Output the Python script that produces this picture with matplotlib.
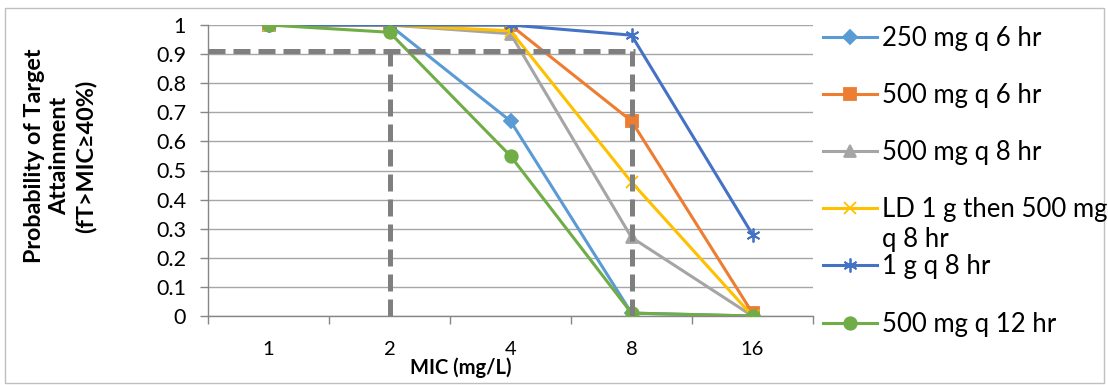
import numpy as np
import matplotlib
matplotlib.use("Agg")
import matplotlib.pyplot as plt
from matplotlib.patches import Rectangle

plt.rcParams['font.family'] = ['Lato', 'DejaVu Sans']

# MIC categories (mg/L)
mic_labels = ['1', '2', '4', '8', '16']

# probability of target attainment per regimen
pta_250_q6 = [1.0, 1.0, 0.67, 0.01, 0.0]
pta_500_q6 = [1.0, 1.0, 1.0, 0.67, 0.01]
pta_500_q8 = [1.0, 1.0, 0.97, 0.27, 0.0]
pta_ld_q8 = [1.0, 1.0, 0.98, 0.46, 0.0]
pta_1g_q8 = [1.0, 1.0, 1.0, 0.965, 0.28]
pta_500_q12 = [1.0, 0.975, 0.55, 0.01, 0.0]

regimens = ['250 mg q 6 hr', '500 mg q 6 hr', '500 mg q 8 hr',
            'LD 1 g then 500 mg', '1 g q 8 hr', '500 mg q 12 hr']

# target line and breakpoints
target = 0.91
breakpoints = [1, 3]   # category index of MIC 2 and MIC 8

series = [pta_250_q6, pta_500_q6, pta_500_q8, pta_ld_q8, pta_1g_q8, pta_500_q12]
colors = ['#5b9bd5', '#ed7d31', '#a5a5a5', '#ffc000', '#4472c4', '#70ad47']
markers = ['D', 's', '^', 'x', (6, 2, 0), 'o']
msizes = [7, 8, 8, 8, 10, 9]

fig = plt.figure(figsize=(11.08, 3.85), dpi=100)
ax = fig.add_axes([208/1108, 1-316/385, 605/1108, 291/385])

x = np.arange(len(mic_labels))
for vals, c, m, ms, lab in zip(series, colors, markers, msizes, regimens):
    ax.plot(x, vals, color=c, lw=2.2, marker=m, ms=ms, mec=c, mfc=c,
            mew=1.3, label=lab, zorder=3)

# dashed reference lines
dash_kw = dict(color='#7f7f7f', lw=3.6, dashes=(3.4, 1.6), zorder=4,
               solid_capstyle='butt', dash_capstyle='butt')
ax.plot([-0.5, breakpoints[1] + 0.03], [target, target], **dash_kw)
for b in breakpoints:
    ax.plot([b, b], [0, target], **dash_kw)

ax.set_xlim(-0.5, len(mic_labels) - 0.5)
ax.set_ylim(0, 1)
ax.set_yticks(np.arange(0, 1.01, 0.1))
ax.set_yticklabels(['0', '0.1', '0.2', '0.3', '0.4', '0.5', '0.6', '0.7',
                    '0.8', '0.9', '1'])
ax.set_xticks(x)
ax.set_xticklabels(mic_labels)
ax.set_xticks(np.arange(-0.5, len(mic_labels)), minor=True)
ax.tick_params(axis='x', which='major', length=0, pad=18, labelsize=14.5)
ax.tick_params(axis='x', which='minor', length=5.8, width=1, color='#868686')
ax.tick_params(axis='y', length=5.8, width=1, color='#868686', pad=10,
               labelsize=15.5)
ax.grid(axis='y', color='#a6a6a6', lw=1)
ax.set_axisbelow(True)
for s in ['top', 'right']:
    ax.spines[s].set_visible(False)
for s in ['left', 'bottom']:
    ax.spines[s].set_color('#868686')
    ax.spines[s].set_linewidth(1)
ax.set_facecolor('none')

fig.text(60/1108, 1-156/385, 'Probability of Target\nAttainment\n(fT>MIC≥40%)',
         rotation=90, ha='center', va='center', multialignment='center',
         fontsize=16.8, fontweight='bold', linespacing=1.25)
fig.text(461/1108, 1-368/385, 'MIC (mg/L)', ha='center', va='center',
         fontsize=14.5, fontweight='bold')

leg = fig.legend(loc='upper left', bbox_to_anchor=(823/1108, 1-26/385),
                 frameon=False, fontsize=18.5, handlelength=2.1,
                 handletextpad=0.19, labelspacing=1.25, borderpad=0,
                 borderaxespad=0)
fig.text(882/1108, 1-239/385, 'q 8 hr', ha='left', va='center', fontsize=18.5)

# chart border
fig.patches.append(Rectangle((5/1108, 2/385), 1099/1108, 375/385,
                             transform=fig.transFigure, fill=False,
                             ec='#bfbfbf', lw=1))

fig.savefig('out.png', dpi=100)
